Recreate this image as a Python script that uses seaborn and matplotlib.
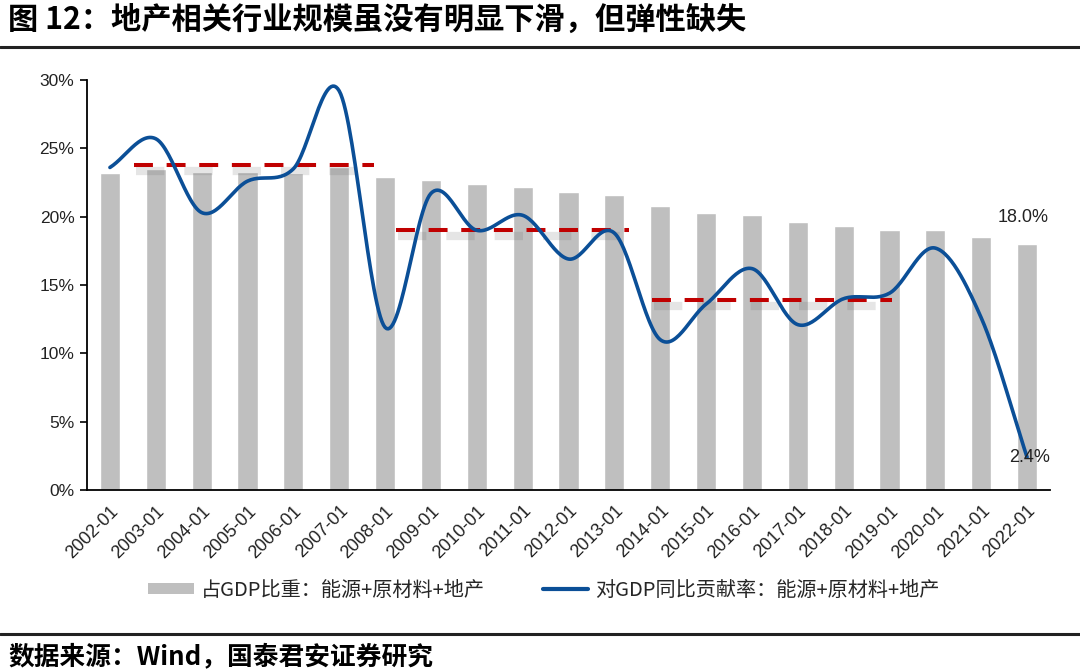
import numpy as np
import pandas as pd
import matplotlib
matplotlib.use("Agg")
import matplotlib.pyplot as plt
import seaborn as sns
from matplotlib.lines import Line2D
from matplotlib.patches import Patch

# ---------------- data ----------------
periods = [f"{y}-01" for y in range(2002, 2023)]
gdp_share = [23.2, 23.5, 23.3, 23.25, 23.2, 23.6, 22.9, 22.7, 22.4, 22.2, 21.8,
             21.6, 20.8, 20.3, 20.1, 19.6, 19.3, 19.0, 19.0, 18.5, 18.0]
gdp_contrib = [23.6, 25.7, 20.3, 22.6, 23.5, 29.2, 11.9, 21.7, 19.0, 20.1, 16.9,
               18.8, 11.0, 13.6, 16.2, 12.1, 14.0, 14.4, 17.7, 12.6, 2.4]
avg_levels = [23.8, 19.05, 13.9]
avg_start = [0.52, 6.23, 11.82]
avg_end = [5.76, 11.33, 17.05]
yticks = [0, 5, 10, 15, 20, 25, 30]

label_share = "占GDP比重：能源+原材料+地产"
label_contrib = "对GDP同比贡献率：能源+原材料+地产"
title = "图 12：地产相关行业规模虽没有明显下滑，但弹性缺失"
source = "数据来源：Wind，国泰君安证券研究"

# ---------------- style ----------------
sns.set_theme(style="white")
plt.rcParams['font.family'] = ['Liberation Sans', 'Noto Sans CJK SC', 'DejaVu Sans']

fig = plt.figure(figsize=(10.8, 6.71), dpi=100)
ax = fig.add_axes([87/1080, 1-490/671, (1050-87)/1080, (490-80)/671])

df = pd.DataFrame({"period": periods, "share": gdp_share, "contrib": gdp_contrib})

sns.barplot(data=df, x="period", y="share", color="#BFBFBF", saturation=1,
            width=0.44, ax=ax, zorder=2)

# dashed average lines with soft shadow
for lvl, s, e in zip(avg_levels, avg_start, avg_end):
    ax.plot([s + 0.05, e + 0.05], [lvl - 0.45, lvl - 0.45], color="#555555", alpha=0.15,
            lw=6, dashes=(3.4, 2.4), zorder=3)
    ax.plot([s, e], [lvl, lvl], color="#C00000", lw=2.9, dashes=(4.7, 3.4),
            dash_capstyle="butt", zorder=4)

# smoothed line (Catmull-Rom, Excel-like smoothing)
xs = np.arange(len(gdp_contrib), dtype=float)
ys = np.asarray(gdp_contrib, dtype=float)
P = np.column_stack([xs, ys])
Pext = np.vstack([P[0] - (P[1] - P[0]), P, P[-1] + (P[-1] - P[-2])])
pts = []
for i in range(1, len(Pext) - 2):
    p0, p1, p2, p3 = Pext[i-1], Pext[i], Pext[i+1], Pext[i+2]
    m1 = (p2 - p0) / 2
    m2 = (p3 - p1) / 2
    t = np.linspace(0, 1, 30)[:, None]
    h00 = 2*t**3 - 3*t**2 + 1
    h10 = t**3 - 2*t**2 + t
    h01 = -2*t**3 + 3*t**2
    h11 = t**3 - t**2
    seg = h00*p1 + h10*m1 + h01*p2 + h11*m2
    pts.append(seg if i == 1 else seg[1:])
curve = np.vstack(pts)
ax.plot(curve[:, 0], curve[:, 1], color="#0B4F97", lw=2.6, solid_capstyle="round", zorder=5)

# end labels
ax.annotate("18.0%", xy=(20, gdp_share[-1]), xytext=(-3, 19), textcoords="offset points",
            ha="center", va="center", fontsize=13, color="#222222", zorder=6)
ax.annotate("2.4%", xy=(20, gdp_contrib[-1]), xytext=(2, 0), textcoords="offset points",
            ha="center", va="center", fontsize=13, color="#222222", zorder=6)

# axes
ax.set_xlim(-0.5, len(periods) - 0.5)
ax.set_ylim(0, 30)
ax.set_yticks(yticks)
ax.set_yticklabels([f"{v}%" for v in yticks], fontsize=12.5, color="#222222")
ax.set_xticks(range(len(periods)))
ax.set_xticklabels(periods, rotation=45, ha="right", va="top", rotation_mode="anchor",
                   fontsize=13, color="#222222")
ax.set_xticks(np.arange(-0.5, len(periods), 1.0), minor=True)
ax.tick_params(axis="x", which="major", length=0, pad=9)
ax.tick_params(axis="x", which="minor", length=5, width=1.2, color="black", direction="out")
ax.tick_params(axis="y", which="major", length=5, width=1.2, color="black", direction="out", left=True, pad=4)
ax.set_xlabel("")
ax.set_ylabel("")
for side in ["top", "right"]:
    ax.spines[side].set_visible(False)
for side in ["left", "bottom"]:
    ax.spines[side].set_color("black")
    ax.spines[side].set_linewidth(1.3)
ax.grid(False)

# legend
handles = [Patch(facecolor="#BFBFBF", edgecolor="none", label=label_share),
           Line2D([0], [0], color="#0B4F97", lw=3, label=label_contrib)]
fig.legend(handles=handles, loc="center", bbox_to_anchor=(544/1080, 1-590/671), ncol=2,
           frameon=False, handlelength=2.25, handleheight=0.45,
           columnspacing=2.9, handletextpad=0.35,
           prop={'family': ['Noto Sans CJK SC'], 'size': 14.5})

# title, rules and source
fig.text(8/1080, 1-20/671, title, fontsize=21.8, fontweight="bold", va="center", ha="left",
         family=['Noto Sans CJK SC', 'DejaVu Sans'], color="black")
fig.add_artist(Line2D([0, 1], [1-47/671, 1-47/671], color="#222222", lw=2.2))
fig.add_artist(Line2D([0, 1], [1-634/671, 1-634/671], color="#222222", lw=2.2))
fig.text(8/1080, 1-657/671, source, fontsize=18.5, fontweight="bold", va="center", ha="left",
         family=['Noto Sans CJK SC', 'DejaVu Sans'], color="black")

fig.savefig("out.png", dpi=100)
